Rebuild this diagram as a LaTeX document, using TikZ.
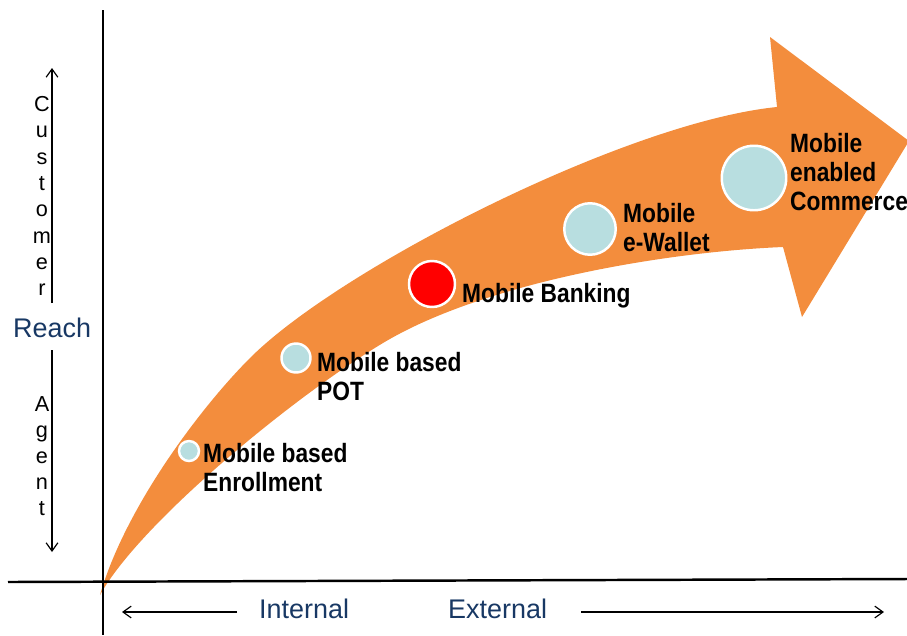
\documentclass[tikz,border=0pt]{standalone}
\usepackage{fontspec}
\setmainfont{Liberation Sans}
\usepackage{graphicx}
\usetikzlibrary{arrows.meta}
\definecolor{arrowor}{RGB}{243,141,61}
\definecolor{dotblue}{RGB}{184,222,224}
\definecolor{navy}{RGB}{24,56,100}
\newcommand\cnd[1]{\scalebox{0.86}[1]{#1}}
\begin{document}
\begin{tikzpicture}[x=0.03cm,y=0.03cm,
  axis/.style={line width=2.1pt, black},
  dimarrow/.style={line width=1pt, black, -{Straight Barb[length=7pt,width=10pt]}},
  dot/.style={circle, draw=white, line width=2.1pt, inner sep=0pt},
  lab/.style={anchor=north west, inner sep=0pt, align=left, font=\fontsize{22.6}{24.8}\selectfont\bfseries},
  vlet/.style={anchor=north, inner sep=0pt, align=center},
  axlab/.style={anchor=base west, inner sep=0pt, text=navy, font=\fontsize{23}{27}\selectfont}]
\useasboundingbox (0,0) rectangle (907,-635);
% big curved arrow
\fill[arrowor] (100,-595)
  .. controls (125,-508) and (200,-408) .. (250,-358)
  .. controls (340,-268) and (627,-122) .. (777,-107)
  -- (770,-37) -- (909,-141) -- (802,-317) -- (783,-247)
  .. controls (663,-252) and (483,-283) .. (383,-343)
  .. controls (293,-397) and (140,-523) .. (100,-595)
  -- cycle;
% axes
\coordinate (vtop) at (103,-10);
\coordinate (vbot) at (103,-635);
\coordinate (hl) at (8,-582);
\coordinate (hr) at (907,-579);
\draw[axis] (vtop) -- (vbot);
\draw[axis] (hl) -- (hr);
% milestones
\node[dot, fill=dotblue, minimum size=0.6cm] (d1) at (189,-451) {};
\node[dot, fill=dotblue, minimum size=0.87cm] (d2) at (296,-358) {};
\node[dot, fill=red, minimum size=1.38cm] (d3) at (432,-284) {};
\node[dot, fill=dotblue, minimum size=1.545cm] (d4) at (590,-229) {};
\node[dot, fill=dotblue, minimum size=1.935cm] (d5) at (754,-178) {};
\node[lab] (l1) at (203,-443) {\cnd{Mobile based}\\\cnd{Enrollment}};
\node[lab] (l2) at (317,-352) {\cnd{Mobile based}\\\cnd{POT}};
\node[lab] (l3) at (462,-283) {\cnd{Mobile Banking}};
\node[lab] (l4) at (623,-203) {\cnd{Mobile}\\\cnd{e-Wallet}};
\node[lab] (l5) at (790,-133) {\cnd{Mobile}\\\cnd{enabled}\\\cnd{Commerce}};
% left axis annotations
\coordinate (cb) at (52,-303);
\coordinate (ct) at (52,-68);
\draw[dimarrow] (cb) -- (ct);
\coordinate (ab) at (52,-350);
\coordinate (at) at (52,-552);
\draw[dimarrow] (ab) -- (at);
\node[vlet, font=\fontsize{18.5}{22.5}\selectfont] (cust) at (42,-96) {C\\u\\s\\t\\o\\m\\e\\r};
\node[vlet, font=\fontsize{18.5}{22.2}\selectfont] (agent) at (42,-396) {A\\g\\e\\n\\t};
\node[axlab] (reach) at (13,-337) {Reach};
% bottom axis annotations
\node[axlab] (int) at (259,-618) {Internal};
\node[axlab] (ext) at (448,-618) {External};
\coordinate (il) at (122,-612);
\coordinate (ir) at (237,-612);
\draw[dimarrow] (ir) -- (il);
\coordinate (el) at (581,-612);
\coordinate (er) at (884,-612);
\draw[dimarrow] (el) -- (er);
\end{tikzpicture}
\end{document}
